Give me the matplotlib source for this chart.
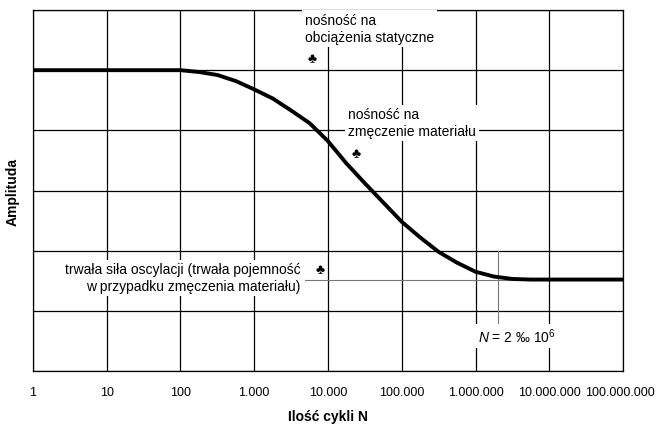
import matplotlib.pyplot as plt
import matplotlib.transforms as mtransforms
from matplotlib.ticker import FixedLocator, NullFormatter

plt.rcParams['font.family'] = ['Liberation Sans', 'DejaVu Sans']
plt.rcParams['mathtext.fontset'] = 'custom'
plt.rcParams['mathtext.rm'] = 'Liberation Sans'
plt.rcParams['mathtext.it'] = 'Liberation Sans:italic'

# curve: number of cycles vs amplitude (grid units)
cycles = [1, 10, 100, 178, 316, 562, 1000, 1778, 3162, 5623, 10000,
          17783, 31623, 56234, 100000, 177828, 316228, 562341, 1000000,
          1778279, 3162278, 5623413, 10000000, 100000000]
amplitude = [5.0, 5.0, 5.0, 4.97, 4.92, 4.82, 4.68, 4.53, 4.33, 4.12, 3.82,
             3.45, 3.12, 2.8, 2.48, 2.22, 1.98, 1.8, 1.65,
             1.57, 1.53, 1.52, 1.52, 1.52]

tick_values = [1, 10, 100, 1e3, 1e4, 1e5, 1e6, 1e7, 1e8]
tick_labels = ['1', '10', '100', '1.000', '10.000', '100.000',
               '1.000.000', '10.000.000', '100.000.000']

fatigue_limit = 1.52
n_limit = 2e6

fig = plt.figure(figsize=(6.56, 4.27), dpi=100)
ax = fig.add_axes([0.0503, 0.1288, 0.8994, 0.8454])
ax.set_xscale('log')
ax.set_xlim(1, 1e8)
ax.set_ylim(0, 6)

ax.xaxis.set_minor_locator(FixedLocator([]))
ax.xaxis.set_minor_formatter(NullFormatter())
ax.set_xticks(tick_values)
ax.set_xticklabels(tick_labels, fontsize=9)
ax.set_yticks(range(7))
ax.set_yticklabels([])
ax.tick_params(length=0, pad=11)
ax.grid(True, color='black', lw=0.9)
ax.set_axisbelow(True)
for s in ax.spines.values():
    s.set_linewidth(0.9)

# nudge the last tick label so it stays inside the image
last = ax.get_xticklabels()[-1]
last.set_transform(last.get_transform() +
                   mtransforms.ScaledTranslation(-3 / 100, 0, fig.dpi_scale_trans))

# thin guide lines
ax.plot([10 ** 3.69, 1e8], [fatigue_limit, fatigue_limit],
        color='#777777', lw=0.8, zorder=3)
ax.plot([n_limit, n_limit], [0.77, 2.0], color='#777777', lw=0.8, zorder=3)

ax.plot(cycles, amplitude, color='black', lw=2.8, zorder=5,
        solid_capstyle='butt', solid_joinstyle='round')

box = dict(facecolor='white', edgecolor='none', pad=2)
ax.text(10 ** 3.69, 5.95, 'nośność na\nobciążenia statyczne', fontsize=10,
        va='top', ha='left', bbox=box, zorder=4, linespacing=1.25)
ax.text(10 ** 3.78, 5.2, '♣', fontsize=10, ha='center', va='center', zorder=4)

ax.text(10 ** 4.27, 4.38, 'nośność na\nzmęczenie materiału', fontsize=10,
        va='top', ha='left', bbox=box, zorder=4, linespacing=1.25)
ax.text(10 ** 4.38, 3.62, '♣', fontsize=10, ha='center', va='center', zorder=6)

ax.text(10 ** 3.63, 1.55, 'trwała siła oscylacji (trwała pojemność\nw przypadku zmęczenia materiału)',
        fontsize=10, va='center', ha='right', multialignment='right',
        bbox=box, zorder=4, linespacing=1.25)
ax.text(10 ** 3.89, 1.7, '♣', fontsize=10, ha='center', va='center', zorder=4)

ax.text(10 ** 6.03, 0.58, '$N$ = 2 ‰ 10$^{6}$', fontsize=10, ha='left',
        va='center', bbox=box, zorder=4)

ax.set_xlabel('Ilość cykli N', fontsize=10, fontweight='bold')
ax.xaxis.set_label_coords(0.5, -0.105)
ax.set_ylabel('Amplituda', fontsize=10, fontweight='bold')
ax.yaxis.set_label_coords(-0.022, 0.5)

fig.savefig('out.png', dpi=100)
